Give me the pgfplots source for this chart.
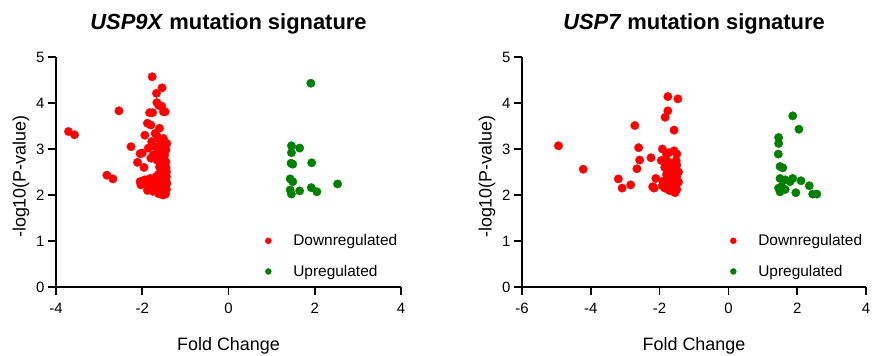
\documentclass[border=0pt]{standalone}
\usepackage{fontspec}
\setmainfont{Liberation Sans}
\usepackage{pgfplots}
\pgfplotsset{compat=1.18}

\definecolor{downred}{RGB}{255,0,0}
\definecolor{upgreen}{RGB}{0,128,0}

\pgfplotsset{
  volcano/.style={
    scale only axis, width=345bp, height=230bp,
    axis lines*=left,
    ymin=0, ymax=5, ytick={0,1,2,3,4,5},
    tick align=outside, major tick length=8bp,
    axis line style={line width=1.6bp},
    every tick/.style={line width=1.6bp, black},
    /pgf/number format/assume math mode=true,
    tick label style={font=\fontsize{15}{17}\selectfont},
    xticklabel style={yshift=-5bp},
    title style={font=\fontsize{22}{26}\selectfont\bfseries,
      at={(axis description cs:0.5,1)}, anchor=base, yshift=22bp},
    xlabel={Fold Change},
    ylabel={-log10(P-value)},
    xlabel style={font=\fontsize{18}{21}\selectfont,
      at={(axis description cs:0.5,0)}, anchor=base, yshift=-63bp},
    % the label is rotated, so a shift along its own y axis moves it left
    ylabel style={font=\fontsize{18}{21}\selectfont,
      at={(axis description cs:0,0.48)}, anchor=center, yshift=35bp},
    legend cell align=left,
    legend image code/.code={\draw[##1, mark size=3bp] plot coordinates {(0bp,0bp)};},
    legend style={draw=none, fill=none, inner sep=0pt, row sep=14bp,
      font=\fontsize{15.5}{18}\selectfont,
      /tikz/every odd column/.style={column sep=20bp}},
  },
  dot/.style={only marks, mark=*, mark size=4.2bp, mark options={solid}},
}

\begin{document}
\begin{tikzpicture}
\path[use as bounding box] (-56bp,-69bp) rectangle (817bp,287bp);

% ---------------- USP9X ----------------
\begin{axis}[volcano, at={(0bp,0bp)}, anchor=south west,
  xmin=-4, xmax=4, xtick={-4,-2,0,2,4},
  title={\textit{USP9X} mutation signature},
  legend style={at={(axis cs:0.85,1.19)}, anchor=north west}]
\addplot[dot, color=downred] coordinates {
(-3.71,3.38) (-3.57,3.31) (-2.54,3.83) (-2.82,2.43) (-2.68,2.35)
(-2.26,3.05) (-2.11,2.71) (-2.05,2.90) (-1.96,2.60) (-2.03,2.29) (-2.03,2.22)
(-1.77,4.57) (-1.54,4.33) (-1.67,4.21) (-1.66,4.01) (-1.62,3.95) (-1.55,3.93)
(-1.47,3.81) (-1.83,3.79) (-1.76,3.79) (-1.51,3.81)
(-1.88,3.56) (-1.80,3.52) (-1.60,3.45) (-1.94,3.30) (-1.70,3.34) (-1.51,3.23)
(-1.65,3.27) (-1.78,3.16) (-1.43,3.12) (-1.58,3.18) (-1.86,3.02) (-1.59,2.98)
(-1.45,2.98) (-1.70,3.05) (-1.52,3.05) (-2.00,2.91) (-1.75,2.87) (-1.48,2.87)
(-1.62,2.92) (-1.80,2.80) (-1.66,2.76) (-1.45,2.72) (-1.55,2.80) (-1.60,2.61)
(-1.45,2.55) (-1.52,2.65) (-1.56,2.50)
(-2.05,2.29) (-1.94,2.33) (-1.82,2.36) (-1.88,2.26) (-1.72,2.30) (-1.68,2.40)
(-1.62,2.45) (-1.55,2.42) (-1.48,2.48) (-1.44,2.40) (-1.50,2.35) (-1.58,2.32)
(-1.45,2.30) (-1.52,2.25) (-1.62,2.22) (-1.70,2.18) (-1.80,2.15) (-1.88,2.10)
(-1.75,2.08) (-1.65,2.12) (-1.55,2.15) (-1.46,2.20) (-1.44,2.12) (-1.50,2.08)
(-1.58,2.05) (-1.46,2.02) (-1.52,2.00) (-1.62,2.03) (-1.45,2.60) (-1.48,2.68)
(-1.44,2.50) (-1.47,2.40) (-1.43,2.25) (-1.53,2.55) (-1.49,2.18) (-1.57,2.28)
};
\addlegendentry{Downregulated}
\addplot[dot, color=upgreen] coordinates {
(1.91,4.43) (1.46,3.07) (1.65,3.02) (1.46,2.92) (1.45,2.69) (1.49,2.67)
(1.93,2.70) (1.43,2.35) (1.49,2.29) (2.53,2.24) (1.43,2.11) (1.46,2.02)
(1.65,2.09) (1.92,2.16) (2.05,2.07)
};
\addlegendentry{Upregulated}
\end{axis}

% ---------------- USP7 ----------------
\begin{axis}[volcano, at={(466bp,0bp)}, anchor=south west,
  xmin=-6, xmax=4, xtick={-6,-4,-2,0,2,4}, width=344bp,
  title={\textit{USP7} mutation signature},
  legend style={at={(axis cs:0.05,1.19)}, anchor=north west}]
\addplot[dot, color=downred] coordinates {
(-4.94,3.07) (-4.22,2.56) (-2.72,3.51) (-2.61,3.03) (-2.58,2.76) (-2.25,2.81)
(-2.66,2.57) (-3.20,2.35) (-2.84,2.22) (-3.09,2.15) (-2.11,2.36) (-2.16,2.15)
(-2.20,2.18)
(-1.76,4.14) (-1.47,4.09) (-1.76,3.83) (-1.84,3.69) (-1.58,3.41) (-1.92,3.00)
(-1.58,2.96) (-1.73,2.92) (-1.50,2.89)
(-1.95,2.75) (-1.75,2.72) (-1.50,2.65) (-1.85,2.60) (-1.65,2.58) (-1.55,2.50)
(-1.80,2.45) (-1.70,2.42) (-1.50,2.40) (-1.60,2.35) (-1.90,2.30) (-1.75,2.28)
(-1.45,2.28) (-1.65,2.22) (-1.55,2.18) (-1.85,2.15) (-1.72,2.10) (-1.50,2.12)
(-1.62,2.08) (-1.55,2.05) (-1.68,2.55) (-1.52,2.75) (-1.62,2.68) (-1.80,2.88)
(-1.45,2.50) (-1.58,2.30) (-1.92,2.20)
};
\addlegendentry{Downregulated}
\addplot[dot, color=upgreen] coordinates {
(1.87,3.72) (2.05,3.43) (1.46,3.25) (1.46,3.12) (1.45,2.89) (1.50,2.62)
(1.58,2.59) (1.50,2.36) (1.65,2.33) (1.79,2.29) (1.87,2.36) (2.11,2.31)
(2.35,2.20) (1.46,2.15) (1.50,2.07) (1.65,2.12) (1.96,2.05) (2.45,2.02)
(2.57,2.02) (1.55,2.18)
};
\addlegendentry{Upregulated}
\end{axis}
\end{tikzpicture}
\end{document}
